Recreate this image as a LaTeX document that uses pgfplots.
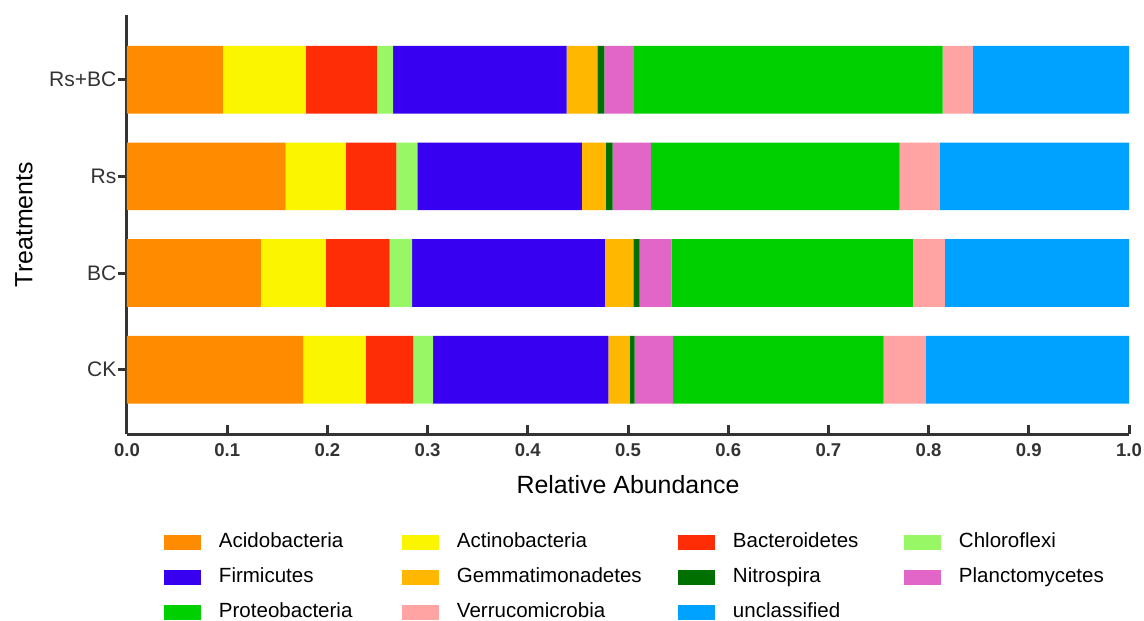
\documentclass[border=0pt]{standalone}
\usepackage{fontspec}
\setmainfont{Liberation Sans}
\usepackage{pgfplots}
\usepackage{pgfplotstable}
\pgfplotsset{compat=1.18}
\definecolor{cAcido}{HTML}{FF8C00}
\definecolor{cActino}{HTML}{FCF500}
\definecolor{cBactero}{HTML}{FF2D05}
\definecolor{cChloro}{HTML}{98F765}
\definecolor{cFirmi}{HTML}{3700F0}
\definecolor{cGemmat}{HTML}{FFB700}
\definecolor{cNitro}{HTML}{007000}
\definecolor{cPlancto}{HTML}{E266C8}
\definecolor{cProteo}{HTML}{00D000}
\definecolor{cVerruco}{HTML}{FFA3A3}
\definecolor{cUncl}{HTML}{00A2FF}
\definecolor{axisgray}{HTML}{333333}
\pgfplotstableread{
y acido actino bactero chloro firmi gemmat nitro plancto proteo verruco uncl
0 0.1761 0.0621 0.0474 0.0200 0.1748 0.0215 0.0046 0.0382 0.2105 0.0421 0.2027
1 0.1337 0.0649 0.0635 0.0225 0.1923 0.0285 0.0061 0.0321 0.2408 0.0318 0.1838
2 0.1583 0.0599 0.0507 0.0210 0.1641 0.0236 0.0071 0.0382 0.2483 0.0400 0.1888
3 0.0958 0.0824 0.0714 0.0160 0.1731 0.0307 0.0071 0.0293 0.3083 0.0300 0.1559
}\datatable
\begin{document}
\begin{tikzpicture}
\begin{axis}[
  at={(0,0)}, anchor=south west,
  scale only axis, width=501bp, height=209.5bp,
  xbar stacked, bar width=0.7,
  xmin=0, xmax=1, ymin=-0.665, ymax=3.67,
  axis lines*=left,
  axis line style={line width=1.5bp, color=axisgray},
  xtick={0,0.1,0.2,0.3,0.4,0.5,0.6,0.7,0.8,0.9,1.0},
  ytick={0,1,2,3}, yticklabels={CK,BC,Rs,Rs+BC},
  xtick align=inside, ytick align=outside, major tick length=4.5bp,
  tick style={line width=1.5bp, color=axisgray},
  xticklabel style={font=\bfseries\fontsize{9.3}{10}\selectfont, text=axisgray, yshift=-1.5bp},
  yticklabel style={font=\fontsize{10.55}{12}\selectfont, text=axisgray, inner sep=0.6bp},
  /pgf/number format/.cd, fixed, fixed zerofill, precision=1, assume math mode=true, /pgfplots/.cd,
  xlabel={Relative Abundance},
  ylabel={Treatments},
  every axis x label/.style={at={(axis description cs:0.5,-0.1217)}, anchor=center, font=\fontsize{12.5}{14}\selectfont},
  every axis y label/.style={at={(axis description cs:-0.1028,0.5)}, rotate=90, anchor=center, font=\fontsize{12.5}{14}\selectfont},
  legend columns=4,
  legend image code/.code={\path[#1,draw=none] (0bp,-3.75bp) rectangle (18.5bp,3.75bp);},
  legend style={at={(axis description cs:0.0369,-0.2356)}, anchor=north west,
    draw=none, fill=none, inner sep=0pt, outer sep=0pt,
    font=\fontsize{10.3}{12}\selectfont,
    nodes={inner sep=0pt, text height=7.5bp, text depth=2.2bp},
    column sep=9bp, row sep=7.8bp,
    /tikz/every even column/.append style={column sep=0bp}},
  legend cell align=left,
]
\addplot[fill=cAcido, draw=none] table[x=acido, y=y] {\datatable};
\addplot[fill=cActino, draw=none] table[x=actino, y=y] {\datatable};
\addplot[fill=cBactero, draw=none] table[x=bactero, y=y] {\datatable};
\addplot[fill=cChloro, draw=none] table[x=chloro, y=y] {\datatable};
\addplot[fill=cFirmi, draw=none] table[x=firmi, y=y] {\datatable};
\addplot[fill=cGemmat, draw=none] table[x=gemmat, y=y] {\datatable};
\addplot[fill=cNitro, draw=none] table[x=nitro, y=y] {\datatable};
\addplot[fill=cPlancto, draw=none] table[x=plancto, y=y] {\datatable};
\addplot[fill=cProteo, draw=none] table[x=proteo, y=y] {\datatable};
\addplot[fill=cVerruco, draw=none] table[x=verruco, y=y] {\datatable};
\addplot[fill=cUncl, draw=none] table[x=uncl, y=y] {\datatable};
\addlegendentry{\makebox[91.5bp][l]{Acidobacteria}}
\addlegendentry{\makebox[110.5bp][l]{Actinobacteria}}
\addlegendentry{\makebox[85.5bp][l]{Bacteroidetes}}
\addlegendentry{Chloroflexi}
\addlegendentry{Firmicutes}
\addlegendentry{Gemmatimonadetes}
\addlegendentry{Nitrospira}
\addlegendentry{Planctomycetes}
\addlegendentry{Proteobacteria}
\addlegendentry{Verrucomicrobia}
\addlegendentry{unclassified}
\end{axis}
\pgfresetboundingbox
\path[use as bounding box] (-63.5bp,-93.5bp) rectangle (508.5bp,217bp);
\end{tikzpicture}
\end{document}
